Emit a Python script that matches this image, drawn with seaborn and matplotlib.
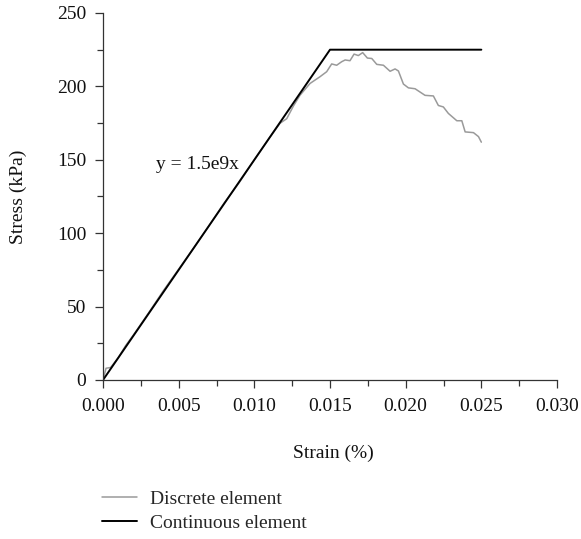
import matplotlib
matplotlib.use("Agg")
import matplotlib.pyplot as plt
import seaborn as sns
import pandas as pd
from matplotlib.ticker import MultipleLocator

sns.set_style("ticks")
plt.rcParams['font.family'] = ['Liberation Serif', 'DejaVu Serif']

# Continuous element
cont_strain = [0.0, 0.015, 0.025]
cont_stress = [0.0, 225.0, 225.0]

# Discrete element
disc_strain = [0.0, 0.0002, 0.0005, 0.001, 0.0015, 0.002, 0.003, 0.004, 0.005, 0.006,
               0.007, 0.008, 0.009, 0.010, 0.011, 0.0117, 0.01214, 0.01258, 0.01302,
               0.01368, 0.01434, 0.01478, 0.01511, 0.01544, 0.01577, 0.0160, 0.01632,
               0.01659, 0.01687, 0.01716, 0.01747, 0.01776, 0.01809, 0.01853, 0.01897,
               0.0193, 0.01952, 0.01985, 0.02018, 0.02062, 0.02128, 0.02183, 0.02216,
               0.02249, 0.02282, 0.02338, 0.02371, 0.02393, 0.02448, 0.02481, 0.0250]
disc_stress = [0.0, 8.0, 8.5, 15.0, 23.5, 30.5, 45.5, 61.0, 75.5, 90.0,
               105.0, 120.5, 134.5, 150.0, 165.0, 174.9, 178.0, 186.6, 194.0,
               202.0, 206.6, 210.0, 215.3, 214.4, 216.8, 218.0, 217.5,
               222.0, 221.0, 223.0, 219.3, 219.0, 215.0, 214.4, 210.3,
               211.9, 210.5, 201.6, 199.0, 198.4, 193.9, 193.5, 187.0,
               186.0, 181.6, 176.6, 176.6, 169.0, 168.5, 165.8, 162.0]

df_d = pd.DataFrame({"strain": disc_strain, "stress": disc_stress})
df_c = pd.DataFrame({"strain": cont_strain, "stress": cont_stress})

FS = 14

fig = plt.figure(figsize=(5.81, 5.39), dpi=100)
ax = fig.add_axes([0.1773, 0.295, 0.7814, 0.6809])

sns.lineplot(data=df_d, x="strain", y="stress", ax=ax, color="#9a9a9a", lw=1.1,
             label="Discrete element", sort=False, legend=False)
sns.lineplot(data=df_c, x="strain", y="stress", ax=ax, color="black", lw=1.4,
             label="Continuous element", sort=False, legend=False)

ax.set_xlim(0, 0.030)
ax.set_ylim(0, 250)
ax.xaxis.set_major_locator(MultipleLocator(0.005))
ax.xaxis.set_minor_locator(MultipleLocator(0.0025))
ax.yaxis.set_major_locator(MultipleLocator(50))
ax.yaxis.set_minor_locator(MultipleLocator(25))
ax.xaxis.set_major_formatter(matplotlib.ticker.FormatStrFormatter('%.3f'))
ax.tick_params(which='major', length=6, width=0.9, labelsize=FS, colors='#333333',
               labelcolor='#111111')
ax.tick_params(axis='x', which='major', pad=7)
ax.tick_params(axis='y', which='major', pad=6)
ax.tick_params(which='minor', length=4, width=0.9, colors='#333333')
for s in ['top', 'right']:
    ax.spines[s].set_visible(False)
for s in ['left', 'bottom']:
    ax.spines[s].set_linewidth(0.9)
    ax.spines[s].set_color('#333333')

ax.set_xlabel("Strain (%)", fontsize=FS, color='#111111')
ax.set_ylabel("Stress (kPa)", fontsize=FS, color='#111111')
ax.xaxis.set_label_coords(0.507, -0.177)
ax.yaxis.set_label_coords(-0.167, 0.5)
ax.text(0.00621, 146.5, "y = 1.5e9x", fontsize=FS, ha='center', va='center',
        color='#111111')

handles, labels = ax.get_legend_handles_labels()
fig.legend(handles, labels, loc='upper left', bbox_to_anchor=(0.1756, 0.091),
           frameon=False, fontsize=FS, handlelength=1.8, handletextpad=0.67,
           labelspacing=0.35, borderaxespad=0, borderpad=0)

fig.savefig("out.png", dpi=100)
